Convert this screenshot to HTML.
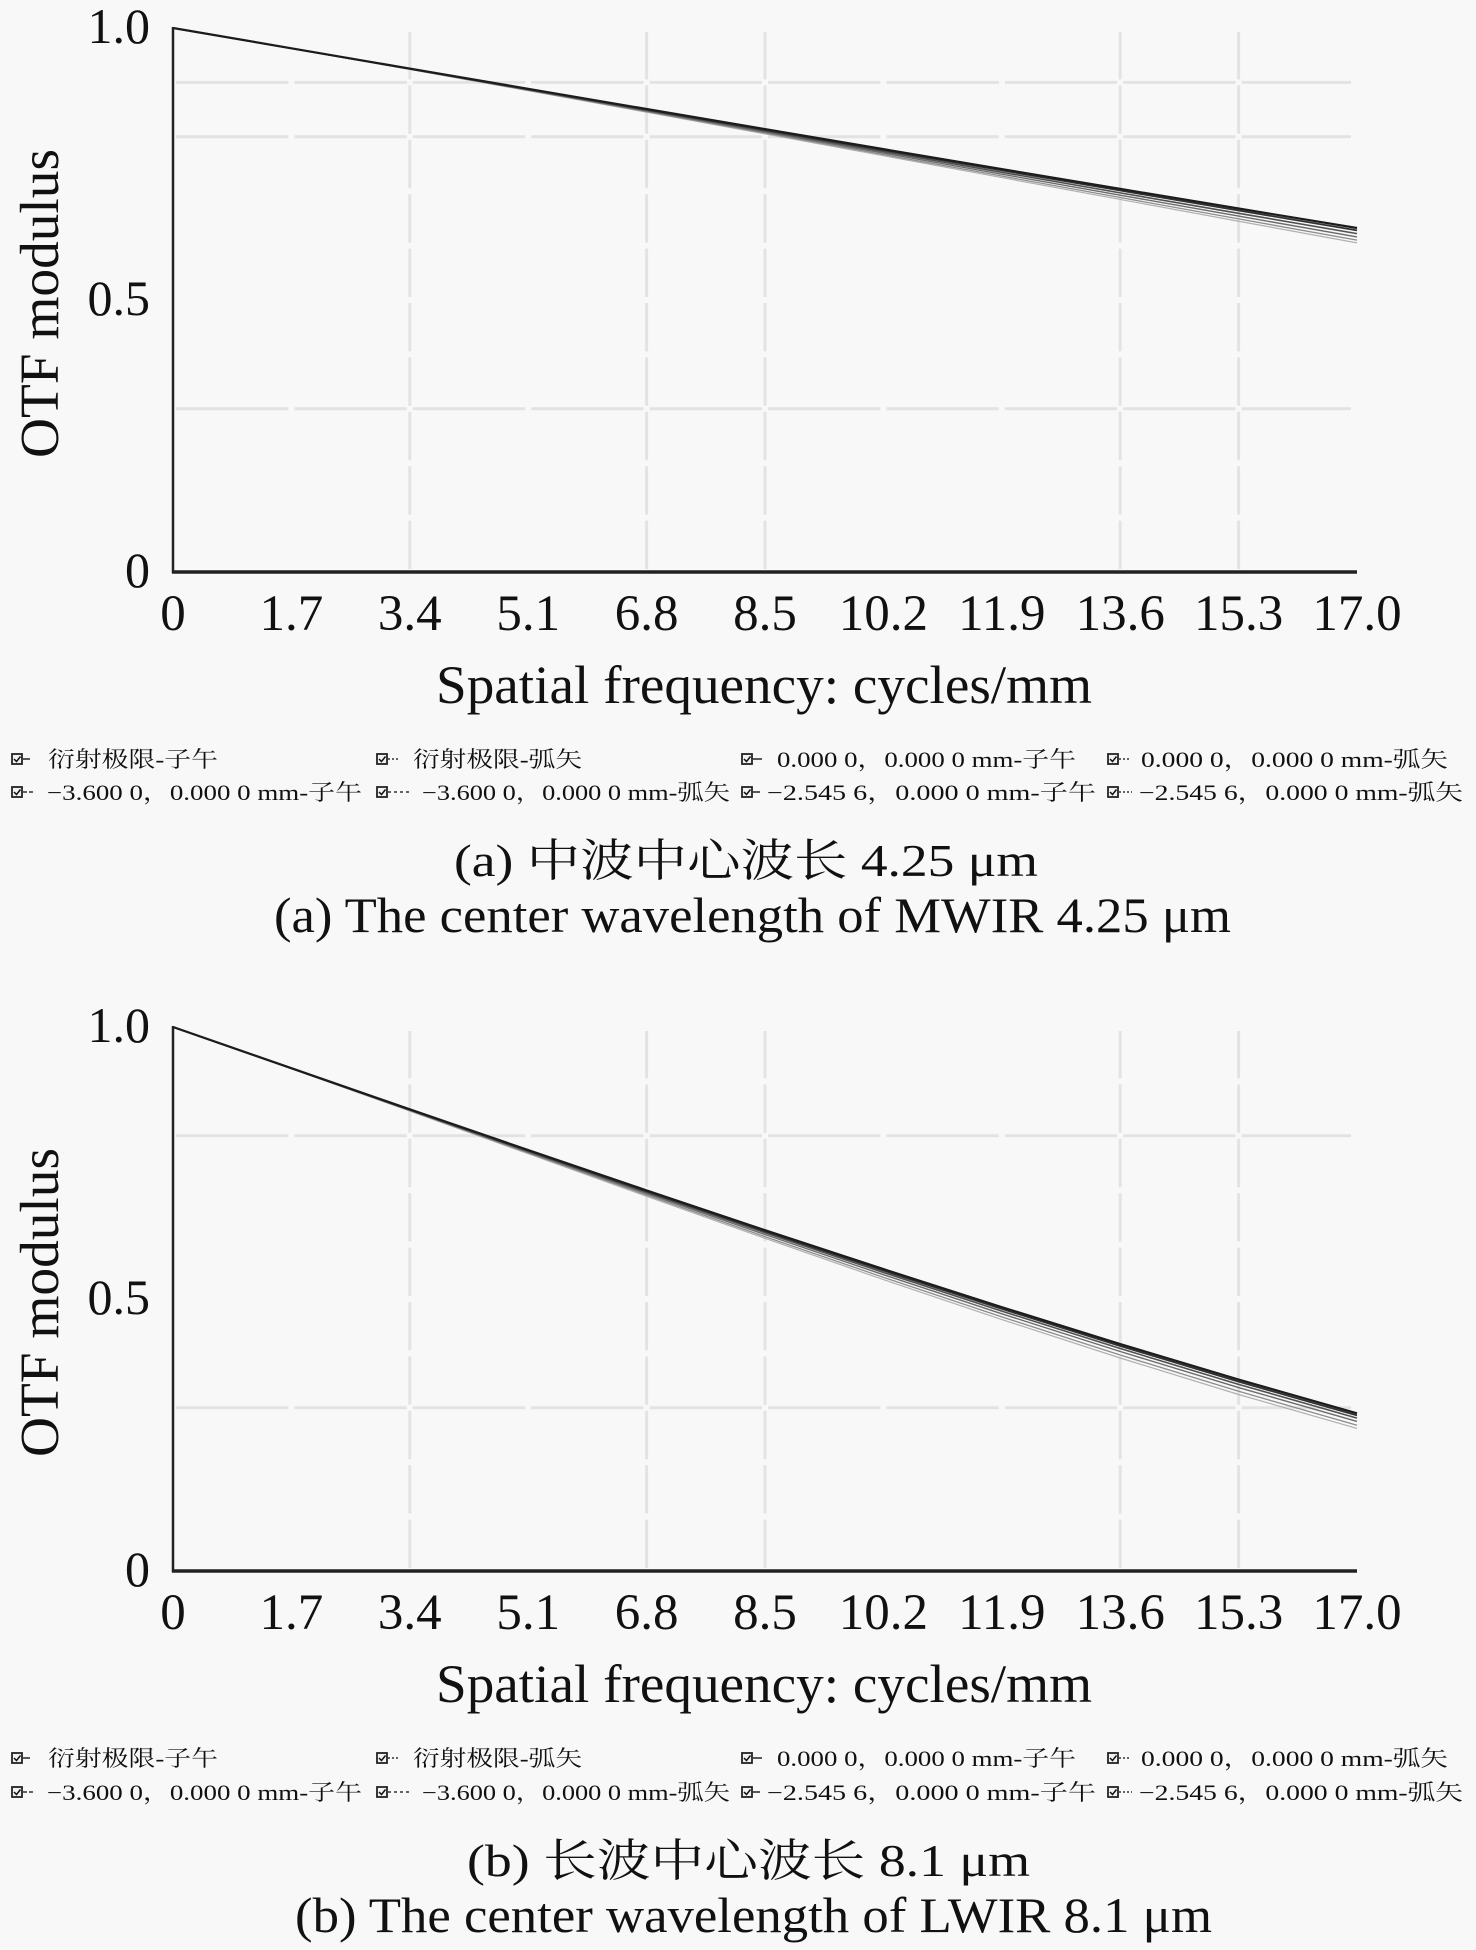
<!DOCTYPE html>
<html>
<head>
<meta charset="utf-8">
<style>
html,body{margin:0;padding:0;background:#f8f8f8;}
svg{display:block;}
text{font-family:"Liberation Serif","Noto Serif CJK SC",serif;fill:#111;}
</style>
</head>
<body>
<svg width="1476" height="1950" viewBox="0 0 1476 1950" xmlns="http://www.w3.org/2000/svg">
<rect x="0" y="0" width="1476" height="1950" fill="#f8f8f8"/>

<!-- ================= PLOT A ================= -->
<g id="plotA">
  <g stroke="#e3e3e3" stroke-width="3" stroke-dasharray="48.4 6">
    <line x1="409.8" y1="569" x2="409.8" y2="32"/>
    <line x1="646.6" y1="569" x2="646.6" y2="32"/>
    <line x1="765" y1="569" x2="765" y2="32"/>
    <line x1="1120.2" y1="569" x2="1120.2" y2="32"/>
    <line x1="1238.6" y1="569" x2="1238.6" y2="32"/>
  </g>
  <g stroke="#e3e3e3" stroke-width="3" stroke-dasharray="112.4 6">
    <line x1="176" y1="82.4" x2="1351" y2="82.4"/>
    <line x1="176" y1="136.8" x2="1351" y2="136.8"/>
    <line x1="176" y1="408.8" x2="1351" y2="408.8"/>
  </g>
  <g transform="translate(173 572) scale(1184 -544)" fill="none" stroke-linejoin="round">
    <polyline vector-effect="non-scaling-stroke" stroke="#b0b0b0" stroke-width="1.2" points="0,1 .1,.96228 .2,.92383 .3,.88478 .4,.84524 .5,.80535 .6,.76523 .7,.72502 .8,.68484 .9,.64480 1,.60502"/>
    <polyline vector-effect="non-scaling-stroke" stroke="#8c8c8c" stroke-width="1.3" points="0,1 .1,.96236 .2,.92412 .3,.88541 .4,.84631 .5,.80696 .6,.76744 .7,.72789 .8,.68840 .9,.64907 1,.61002"/>
    <polyline vector-effect="non-scaling-stroke" stroke="#6a6a6a" stroke-width="1.4" points="0,1 .1,.96245 .2,.92447 .3,.88617 .4,.84761 .5,.80889 .6,.77010 .7,.73134 .8,.69268 .9,.65422 1,.61603"/>
    <polyline vector-effect="non-scaling-stroke" stroke="#505050" stroke-width="1.6" points="0,1 .1,.96254 .2,.92483 .3,.88693 .4,.84890 .5,.81082 .6,.77276 .7,.73478 .8,.69696 .9,.65936 1,.62203"/>
    <polyline vector-effect="non-scaling-stroke" stroke="#303030" stroke-width="1.8" points="0,1 .1,.96263 .2,.92518 .3,.88769 .4,.85019 .5,.81276 .6,.77542 .7,.73823 .8,.70124 .9,.66450 1,.62804"/>
    <polyline vector-effect="non-scaling-stroke" stroke="#1c1c1c" stroke-width="2.2" points="0,1 .1,.96270 .2,.92543 .3,.88823 .4,.85112 .5,.81414 .6,.77732 .7,.74070 .8,.70431 .9,.66818 1,.63234"/>
  </g>
  <line x1="173" y1="27" x2="173" y2="573" stroke="#222" stroke-width="2.5"/>
  <line x1="172" y1="572" x2="1357" y2="572" stroke="#222" stroke-width="3.5"/>
  <g font-size="50" text-anchor="end">
    <text x="150" y="43">1.0</text>
    <text x="150" y="315">0.5</text>
    <text x="150" y="587">0</text>
  </g>
  <g font-size="51" text-anchor="middle">
    <text x="173" y="630">0</text>
    <text x="291.4" y="630">1.7</text>
    <text x="409.8" y="630">3.4</text>
    <text x="528.2" y="630">5.1</text>
    <text x="646.6" y="630">6.8</text>
    <text x="765" y="630">8.5</text>
    <text x="883.4" y="630">10.2</text>
    <text x="1001.8" y="630">11.9</text>
    <text x="1120.2" y="630">13.6</text>
    <text x="1238.6" y="630">15.3</text>
    <text x="1357" y="630">17.0</text>
  </g>
  <text x="436" y="703" font-size="54" textLength="656" lengthAdjust="spacingAndGlyphs">Spatial frequency: cycles/mm</text>
  <text transform="translate(58 458) rotate(-90)" font-size="55" textLength="309" lengthAdjust="spacingAndGlyphs">OTF modulus</text>
</g>

<!-- ================= PLOT B ================= -->
<g id="plotB" transform="translate(0 999)">
  <g stroke="#e3e3e3" stroke-width="3" stroke-dasharray="48.4 6">
    <line x1="409.8" y1="569" x2="409.8" y2="32"/>
    <line x1="646.6" y1="569" x2="646.6" y2="32"/>
    <line x1="765" y1="569" x2="765" y2="32"/>
    <line x1="1120.2" y1="569" x2="1120.2" y2="32"/>
    <line x1="1238.6" y1="569" x2="1238.6" y2="32"/>
  </g>
  <g stroke="#e3e3e3" stroke-width="3" stroke-dasharray="112.4 6">
    <line x1="176" y1="136.8" x2="1351" y2="136.8"/>
    <line x1="176" y1="408.8" x2="1351" y2="408.8"/>
  </g>
  <g transform="translate(173 572) scale(1184 -544)" fill="none" stroke-linejoin="round">
    <polyline vector-effect="non-scaling-stroke" stroke="#b0b0b0" stroke-width="1.2" points="0,1 .1,.92333 .2,.84545 .3,.76705 .4,.68884 .5,.61150 .6,.53573 .7,.46219 .8,.39153 .9,.32443 1,.26201"/>
    <polyline vector-effect="non-scaling-stroke" stroke="#8c8c8c" stroke-width="1.3" points="0,1 .1,.92352 .2,.84616 .3,.76849 .4,.69116 .5,.61474 .6,.53987 .7,.46711 .8,.39706 .9,.33033 1,.26801"/>
    <polyline vector-effect="non-scaling-stroke" stroke="#6a6a6a" stroke-width="1.4" points="0,1 .1,.92374 .2,.84697 .3,.77017 .4,.69386 .5,.61852 .6,.54468 .7,.47283 .8,.40350 .9,.33720 1,.27500"/>
    <polyline vector-effect="non-scaling-stroke" stroke="#505050" stroke-width="1.6" points="0,1 .1,.92394 .2,.84768 .3,.77161 .4,.69617 .5,.62176 .6,.54882 .7,.47775 .8,.40902 .9,.34310 1,.28100"/>
    <polyline vector-effect="non-scaling-stroke" stroke="#303030" stroke-width="1.8" points="0,1 .1,.92410 .2,.84827 .3,.77282 .4,.69811 .5,.62447 .6,.55227 .7,.48186 .8,.41364 .9,.34803 1,.28602"/>
    <polyline vector-effect="non-scaling-stroke" stroke="#1c1c1c" stroke-width="2.2" points="0,1 .1,.92422 .2,.84872 .3,.77375 .4,.69961 .5,.62657 .6,.55495 .7,.48505 .8,.41722 .9,.35185 1,.28990"/>
  </g>
  <line x1="173" y1="27" x2="173" y2="573" stroke="#222" stroke-width="2.5"/>
  <line x1="172" y1="572" x2="1357" y2="572" stroke="#222" stroke-width="3.5"/>
  <g font-size="50" text-anchor="end">
    <text x="150" y="43">1.0</text>
    <text x="150" y="315">0.5</text>
    <text x="150" y="587">0</text>
  </g>
  <g font-size="51" text-anchor="middle">
    <text x="173" y="630">0</text>
    <text x="291.4" y="630">1.7</text>
    <text x="409.8" y="630">3.4</text>
    <text x="528.2" y="630">5.1</text>
    <text x="646.6" y="630">6.8</text>
    <text x="765" y="630">8.5</text>
    <text x="883.4" y="630">10.2</text>
    <text x="1001.8" y="630">11.9</text>
    <text x="1120.2" y="630">13.6</text>
    <text x="1238.6" y="630">15.3</text>
    <text x="1357" y="630">17.0</text>
  </g>
  <text x="436" y="703" font-size="54" textLength="656" lengthAdjust="spacingAndGlyphs">Spatial frequency: cycles/mm</text>
  <text transform="translate(58 458) rotate(-90)" font-size="55" textLength="309" lengthAdjust="spacingAndGlyphs">OTF modulus</text>
</g>

<!-- ================= LEGEND A ================= -->
<g id="legA">
  <g fill="#f2f2f2" stroke="#222" stroke-width="1.8">
    <rect x="12" y="754" width="10" height="10"/>
    <rect x="377" y="754" width="10" height="10"/>
    <rect x="742" y="754" width="10" height="10"/>
    <rect x="1108" y="754" width="10" height="10"/>
    <rect x="12" y="787" width="10" height="10"/>
    <rect x="377" y="787" width="10" height="10"/>
    <rect x="742" y="787" width="10" height="10"/>
    <rect x="1108" y="787" width="10" height="10"/>
  </g>
  <g fill="none" stroke="#111" stroke-width="1.5">
    <path d="M14,759 l2.5,2.5 l4,-5"/><path d="M379,759 l2.5,2.5 l4,-5"/>
    <path d="M744,759 l2.5,2.5 l4,-5"/><path d="M1110,759 l2.5,2.5 l4,-5"/>
    <path d="M14,792 l2.5,2.5 l4,-5"/><path d="M379,792 l2.5,2.5 l4,-5"/>
    <path d="M744,792 l2.5,2.5 l4,-5"/><path d="M1110,792 l2.5,2.5 l4,-5"/>
  </g>
  <g stroke="#333" stroke-width="1.6">
    <line x1="23" y1="759" x2="30" y2="759"/>
    <line x1="388" y1="759" x2="398" y2="759" stroke-dasharray="2 2"/>
    <line x1="753" y1="759" x2="762" y2="759"/>
    <line x1="1119" y1="759" x2="1130" y2="759" stroke-dasharray="2 2"/>
    <line x1="23" y1="792" x2="34" y2="792" stroke-dasharray="4 2"/>
    <line x1="388" y1="792" x2="410" y2="792" stroke-dasharray="3 3"/>
    <line x1="753" y1="792" x2="760" y2="792"/>
    <line x1="1119" y1="792" x2="1132" y2="792" stroke-dasharray="2 2"/>
  </g>
  <g font-size="22" style="white-space:pre" fill="#222">
    <text x="48" y="767" textLength="170" lengthAdjust="spacingAndGlyphs">衍射极限-子午</text>
    <text x="413" y="767" textLength="169" lengthAdjust="spacingAndGlyphs">衍射极限-弧矢</text>
    <text x="777" y="767" textLength="299" lengthAdjust="spacingAndGlyphs">0.000 0，0.000 0 mm-子午</text>
    <text x="1141" y="767" textLength="307" lengthAdjust="spacingAndGlyphs">0.000 0，0.000 0 mm-弧矢</text>
    <text x="47" y="800" textLength="315" lengthAdjust="spacingAndGlyphs">−3.600 0，0.000 0 mm-子午</text>
    <text x="422" y="800" textLength="308" lengthAdjust="spacingAndGlyphs">−3.600 0，0.000 0 mm-弧矢</text>
    <text x="767" y="800" textLength="329" lengthAdjust="spacingAndGlyphs">−2.545 6，0.000 0 mm-子午</text>
    <text x="1139" y="800" textLength="324" lengthAdjust="spacingAndGlyphs">−2.545 6，0.000 0 mm-弧矢</text>
  </g>
</g>

<!-- ================= LEGEND B ================= -->
<g id="legB" transform="translate(0 1000)">
  <g fill="#f2f2f2" stroke="#222" stroke-width="1.8">
    <rect x="12" y="753" width="10" height="10"/>
    <rect x="377" y="753" width="10" height="10"/>
    <rect x="742" y="753" width="10" height="10"/>
    <rect x="1108" y="753" width="10" height="10"/>
    <rect x="12" y="787" width="10" height="10"/>
    <rect x="377" y="787" width="10" height="10"/>
    <rect x="742" y="787" width="10" height="10"/>
    <rect x="1108" y="787" width="10" height="10"/>
  </g>
  <g fill="none" stroke="#111" stroke-width="1.5">
    <path d="M14,758 l2.5,2.5 l4,-5"/><path d="M379,758 l2.5,2.5 l4,-5"/>
    <path d="M744,758 l2.5,2.5 l4,-5"/><path d="M1110,758 l2.5,2.5 l4,-5"/>
    <path d="M14,792 l2.5,2.5 l4,-5"/><path d="M379,792 l2.5,2.5 l4,-5"/>
    <path d="M744,792 l2.5,2.5 l4,-5"/><path d="M1110,792 l2.5,2.5 l4,-5"/>
  </g>
  <g stroke="#333" stroke-width="1.6">
    <line x1="23" y1="758" x2="30" y2="758"/>
    <line x1="388" y1="758" x2="398" y2="758" stroke-dasharray="2 2"/>
    <line x1="753" y1="758" x2="762" y2="758"/>
    <line x1="1119" y1="758" x2="1130" y2="758" stroke-dasharray="2 2"/>
    <line x1="23" y1="792" x2="34" y2="792" stroke-dasharray="4 2"/>
    <line x1="388" y1="792" x2="410" y2="792" stroke-dasharray="3 3"/>
    <line x1="753" y1="792" x2="760" y2="792"/>
    <line x1="1119" y1="792" x2="1132" y2="792" stroke-dasharray="2 2"/>
  </g>
  <g font-size="22" style="white-space:pre" fill="#222">
    <text x="48" y="766" textLength="170" lengthAdjust="spacingAndGlyphs">衍射极限-子午</text>
    <text x="413" y="766" textLength="169" lengthAdjust="spacingAndGlyphs">衍射极限-弧矢</text>
    <text x="777" y="766" textLength="299" lengthAdjust="spacingAndGlyphs">0.000 0，0.000 0 mm-子午</text>
    <text x="1141" y="766" textLength="307" lengthAdjust="spacingAndGlyphs">0.000 0，0.000 0 mm-弧矢</text>
    <text x="47" y="800" textLength="315" lengthAdjust="spacingAndGlyphs">−3.600 0，0.000 0 mm-子午</text>
    <text x="422" y="800" textLength="308" lengthAdjust="spacingAndGlyphs">−3.600 0，0.000 0 mm-弧矢</text>
    <text x="767" y="800" textLength="329" lengthAdjust="spacingAndGlyphs">−2.545 6，0.000 0 mm-子午</text>
    <text x="1139" y="800" textLength="324" lengthAdjust="spacingAndGlyphs">−2.545 6，0.000 0 mm-弧矢</text>
  </g>
</g>

<!-- ================= CAPTIONS ================= -->
<g style="white-space:pre">
  <text x="454" y="876" font-size="45" textLength="584" lengthAdjust="spacingAndGlyphs">(a) 中波中心波长  4.25 μm</text>
  <text x="274" y="932" font-size="50" textLength="957" lengthAdjust="spacingAndGlyphs">(a) The center wavelength of MWIR 4.25 μm</text>
  <text x="467" y="1876" font-size="45" textLength="563" lengthAdjust="spacingAndGlyphs">(b) 长波中心波长  8.1 μm</text>
  <text x="295" y="1932" font-size="50" textLength="917" lengthAdjust="spacingAndGlyphs">(b) The center wavelength of LWIR 8.1 μm</text>
</g>
</svg>
</body>
</html>
